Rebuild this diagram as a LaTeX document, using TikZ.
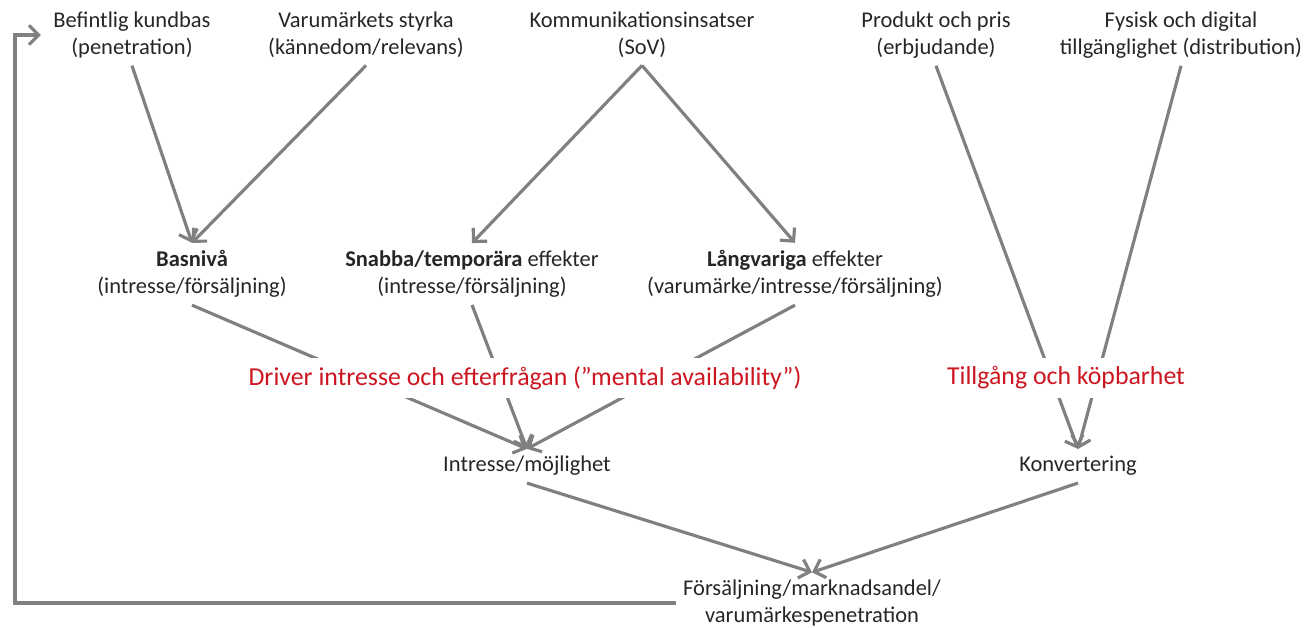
\documentclass[tikz,border=0pt]{standalone}
\usepackage{fontspec}
\setmainfont{Carlito}
\usepackage{xcolor}
\usepackage{tikz}
\usetikzlibrary{arrows.meta}
\definecolor{linegray}{RGB}{128,128,128}
\definecolor{textgray}{RGB}{38,38,38}
\definecolor{signalred}{RGB}{204,22,32}
\tikzset{
    arrow_line/.style={-{Straight Barb[length=5.5pt,width=11pt]}, line width=1.8pt, linegray},
    box_text/.style={align=center, inner sep=4pt, text=textgray, font=\fontsize{12.8}{15.6}\selectfont},
    red_text/.style={fill=white, inner xsep=3pt, inner ysep=5pt, text=signalred, font=\fontsize{14.7}{17}\selectfont}
}

\begin{document}
\begin{tikzpicture}[x=0.02cm, y=-0.02cm]
    \useasboundingbox (0,0) rectangle (1309,628);
    % Drivers
    \node[box_text] (befintlig) at (132,35) {Befintlig kundbas\\(penetration)};
    \node[box_text] (styrka) at (366,35) {Varumärkets styrka\\(kännedom/relevans)};
    \node[box_text] (komm) at (642,35) {Kommunikationsinsatser\\(SoV)};
    \node[box_text] (produkt) at (936,35) {Produkt och pris\\(erbjudande)};
    \node[box_text] (fysisk) at (1181,35) {Fysisk och digital\\tillgänglighet (distribution)};
    % Effects
    \node[box_text] (basniva) at (192,274) {\textbf{Basnivå}\\(intresse/försäljning)};
    \node[box_text] (snabba) at (472,274) {\textbf{Snabba/temporära} effekter\\(intresse/försäljning)};
    \node[box_text] (langvariga) at (795,274) {\textbf{Långvariga} effekter\\(varumärke/intresse/försäljning)};
    \node[box_text] (intresse) at (527,466) {Intresse/möjlighet};
    \node[box_text] (konv) at (1078,466) {Konvertering};
    \node[box_text] (forsaljning) at (812,603) {Försäljning/marknadsandel/\\varumärkespenetration};
    \coordinate (retur) at (15,0);

    \draw[arrow_line] (befintlig.south) -- (basniva.north);
    \draw[arrow_line] (styrka.south) -- (basniva.north);
    \draw[arrow_line] (komm.south) -- (snabba.north);
    \draw[arrow_line] (komm.south) -- (langvariga.north);
    \draw[arrow_line] (basniva.south) -- (intresse.north);
    \draw[arrow_line] (snabba.south) -- (intresse.north);
    \draw[arrow_line] (langvariga.south) -- (intresse.north);
    \draw[arrow_line] (produkt.south) -- (konv.north);
    \draw[arrow_line] (fysisk.south) -- (konv.north);
    \draw[arrow_line] (intresse.south) -- (forsaljning.north);
    \draw[arrow_line] (konv.south) -- (forsaljning.north);
    \draw[arrow_line, shorten >=3pt] (forsaljning.west) -- (forsaljning.west -| retur) |- (befintlig.west);

    % Red labels on top of the lines
    \node[red_text] (mental) at (525,378) {Driver intresse och efterfrågan (”mental availability”)};
    \node[red_text] (tillgang) at (1066,378) {Tillgång och köpbarhet};
\end{tikzpicture}
\end{document}
